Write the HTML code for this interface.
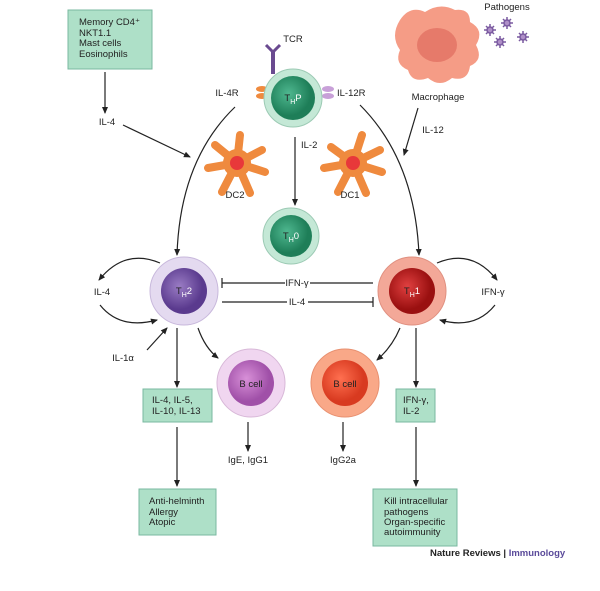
<!DOCTYPE html>
<html><head><meta charset="utf-8"><style>
html,body{margin:0;padding:0;background:#fff}
svg{display:block}
text{font-family:"Liberation Sans",sans-serif;font-size:9.5px;fill:#222}
</style></head><body>
<svg width="600" height="591" viewBox="0 0 600 591" xmlns="http://www.w3.org/2000/svg">
<defs>
<marker id="a" markerWidth="8" markerHeight="8" refX="6" refY="4" orient="auto" markerUnits="userSpaceOnUse"><path d="M0,1 L7,4 L0,7 Z" fill="#222"/></marker>
<radialGradient id="gG" cx="40%" cy="40%"><stop offset="0" stop-color="#4fb890"/><stop offset="1" stop-color="#1e7e58"/></radialGradient>
<radialGradient id="gP" cx="40%" cy="40%"><stop offset="0" stop-color="#9a7cc4"/><stop offset="1" stop-color="#5a3a8e"/></radialGradient>
<radialGradient id="gR" cx="40%" cy="40%"><stop offset="0" stop-color="#e04040"/><stop offset="1" stop-color="#9a1010"/></radialGradient>
<radialGradient id="gBP" cx="40%" cy="40%"><stop offset="0" stop-color="#d890d8"/><stop offset="1" stop-color="#a050a8"/></radialGradient>
<radialGradient id="gBR" cx="40%" cy="40%"><stop offset="0" stop-color="#ff7050"/><stop offset="1" stop-color="#d83a20"/></radialGradient>
</defs>
<g stroke="#222" stroke-width="1.2" fill="none">
<line x1="105" y1="72" x2="105" y2="113" marker-end="url(#a)"/>
<line x1="123" y1="125" x2="190" y2="157" marker-end="url(#a)"/>
<path d="M235,107 Q180,160 177,255" marker-end="url(#a)"/>
<path d="M360,105 Q415,160 419,255" marker-end="url(#a)"/>
<line x1="418" y1="108" x2="404" y2="155" marker-end="url(#a)"/>
<line x1="295" y1="137" x2="295" y2="205" marker-end="url(#a)"/>
<path d="M160,263 Q125,248 99,280" marker-end="url(#a)"/>
<path d="M100,305 Q120,330 157,320" marker-end="url(#a)"/>
<path d="M437,263 Q472,248 497,280" marker-end="url(#a)"/>
<path d="M495,305 Q475,330 440,320" marker-end="url(#a)"/>
<line x1="222" y1="283" x2="285" y2="283"/><line x1="310" y1="283" x2="373" y2="283"/>
<line x1="222" y1="278" x2="222" y2="288"/>
<line x1="222" y1="302" x2="287" y2="302"/><line x1="308" y1="302" x2="373" y2="302"/>
<line x1="373" y1="297" x2="373" y2="307"/>
<line x1="147" y1="350" x2="167" y2="328" marker-end="url(#a)"/>
<line x1="177" y1="328" x2="177" y2="387" marker-end="url(#a)"/>
<line x1="177" y1="427" x2="177" y2="486" marker-end="url(#a)"/>
<path d="M198,328 Q205,348 218,358" marker-end="url(#a)"/>
<line x1="248" y1="422" x2="248" y2="451" marker-end="url(#a)"/>
<line x1="343" y1="422" x2="343" y2="451" marker-end="url(#a)"/>
<path d="M400,328 Q392,347 377,360" marker-end="url(#a)"/>
<line x1="416" y1="328" x2="416" y2="387" marker-end="url(#a)"/>
<line x1="416" y1="427" x2="416" y2="486" marker-end="url(#a)"/>
</g>
<!-- boxes -->
<g fill="#aee0c8" stroke="#7ab8a0" stroke-width="1">
<rect x="68" y="10" width="84" height="59"/>
<rect x="143" y="389" width="69" height="33"/>
<rect x="139" y="489" width="77" height="46"/>
<rect x="396" y="389" width="39" height="33"/>
<rect x="373" y="489" width="84" height="57"/>
</g>
<text x="79" y="25">Memory CD4⁺</text><text x="79" y="36">NKT1.1</text><text x="79" y="46">Mast cells</text><text x="79" y="57">Eosinophils</text>
<text x="152" y="403">IL-4, IL-5,</text><text x="152" y="414">IL-10, IL-13</text>
<text x="149" y="504">Anti-helminth</text><text x="149" y="515">Allergy</text><text x="149" y="525">Atopic</text>
<text x="403" y="403">IFN-γ,</text><text x="403" y="414">IL-2</text>
<text x="384" y="504">Kill intracellular</text><text x="384" y="515">pathogens</text><text x="384" y="525">Organ-specific</text><text x="384" y="535">autoimmunity</text>
<!-- macrophage -->
<path d="M400,20 Q410,5 425,12 Q440,2 455,10 Q470,8 470,22 Q485,30 476,45 Q484,60 470,66 Q468,82 452,78 Q440,88 428,78 Q412,84 408,70 Q394,64 400,50 Q390,36 400,20 Z" fill="#f59c86"/>
<ellipse cx="437" cy="45" rx="20" ry="17" fill="#e67a6a"/>
<g stroke="#7a5aa0" stroke-width="1.5" fill="#b090c8">
<g transform="translate(490,30)"><path d="M-6,0H6M0,-6V6M-4,-4L4,4M-4,4L4,-4"/><circle r="3"/></g>
<g transform="translate(507,23)"><path d="M-6,0H6M0,-6V6M-4,-4L4,4M-4,4L4,-4"/><circle r="3"/></g>
<g transform="translate(500,42)"><path d="M-6,0H6M0,-6V6M-4,-4L4,4M-4,4L4,-4"/><circle r="3"/></g>
<g transform="translate(523,37)"><path d="M-6,0H6M0,-6V6M-4,-4L4,4M-4,4L4,-4"/><circle r="3"/></g>
</g>
<!-- DCs -->
<g stroke="#ef8a3e" stroke-width="8" stroke-linecap="round">
<path d="M237,163 L215,145 M237,163 L240,135 M237,163 L262,150 M237,163 L265,172 M237,163 L250,193 M237,163 L222,192 M237,163 L208,168"/>
<path d="M353,163 L331,147 M353,163 L362,135 M353,163 L380,150 M353,163 L382,172 M353,163 L366,193 M353,163 L338,192 M353,163 L324,168"/>
</g>
<circle cx="237" cy="163" r="14" fill="#ef8a3e"/><circle cx="237" cy="163" r="7" fill="#e8383a"/>
<circle cx="353" cy="163" r="14" fill="#ef8a3e"/><circle cx="353" cy="163" r="7" fill="#e8383a"/>
<!-- TCR and receptors -->
<rect x="271" y="50" width="4" height="24" fill="#6a4a90"/>
<path d="M266,45 L273,52 L280,45" stroke="#6a4a90" stroke-width="3" fill="none"/>
<ellipse cx="262" cy="89" rx="6" ry="3" fill="#ef8a3e"/><ellipse cx="262" cy="96" rx="6" ry="3" fill="#ef8a3e"/>
<ellipse cx="328" cy="89" rx="6" ry="3" fill="#c8a0d8"/><ellipse cx="328" cy="96" rx="6" ry="3" fill="#c8a0d8"/>
<!-- cells -->
<circle cx="293" cy="98" r="29" fill="#c4e8d6" stroke="#9ccab4"/><circle cx="293" cy="98" r="22" fill="url(#gG)"/>
<circle cx="291" cy="236" r="28" fill="#c4e8d6" stroke="#9ccab4"/><circle cx="291" cy="236" r="21" fill="url(#gG)"/>
<circle cx="184" cy="291" r="34" fill="#e4daf0" stroke="#c8b8dc"/><circle cx="184" cy="291" r="23" fill="url(#gP)"/>
<circle cx="412" cy="291" r="34" fill="#f3a898" stroke="#e09080"/><circle cx="412" cy="291" r="23" fill="url(#gR)"/>
<circle cx="251" cy="383" r="34" fill="#f0d6f0" stroke="#d8b8d8"/><circle cx="251" cy="383" r="23" fill="url(#gBP)"/>
<circle cx="345" cy="383" r="34" fill="#f9a888" stroke="#e89070"/><circle cx="345" cy="383" r="23" fill="url(#gBR)"/>
<g text-anchor="middle">
<text x="293" y="101" fill="#fff">T<tspan font-size="7" dy="3" fill="#fff">H</tspan><tspan dy="-3" fill="#fff">P</tspan></text>
<text x="291" y="239" fill="#fff">T<tspan font-size="7" dy="3" fill="#fff">H</tspan><tspan dy="-3" fill="#fff">0</tspan></text>
<text x="184" y="294" fill="#fff">T<tspan font-size="7" dy="3" fill="#fff">H</tspan><tspan dy="-3" fill="#fff">2</tspan></text>
<text x="412" y="294" fill="#fff">T<tspan font-size="7" dy="3" fill="#fff">H</tspan><tspan dy="-3" fill="#fff">1</tspan></text>
<text x="251" y="387" fill="#fff">B cell</text>
<text x="345" y="387" fill="#fff">B cell</text>
<text x="293" y="42">TCR</text>
<text x="297" y="286">IFN-γ</text>
<text x="297" y="305">IL-4</text>
<text x="102" y="295">IL-4</text>
<text x="493" y="295">IFN-γ</text>
<text x="123" y="361">IL-1α</text>
<text x="248" y="463">IgE, IgG1</text>
<text x="343" y="463">IgG2a</text>
<text x="107" y="125">IL-4</text>
<text x="235" y="198">DC2</text>
<text x="350" y="198">DC1</text>
<text x="438" y="100">Macrophage</text>
<text x="433" y="133">IL-12</text>
<text x="507" y="10">Pathogens</text>
</g>
<text x="227" y="96" text-anchor="middle">IL-4R</text>
<text x="337" y="96">IL-12R</text>
<text x="301" y="148">IL-2</text>
<text x="430" y="556" font-weight="bold" font-size="9">Nature Reviews | <tspan fill="#5a4a9a" font-weight="bold">Immunology</tspan></text>
</svg>
</body></html>
